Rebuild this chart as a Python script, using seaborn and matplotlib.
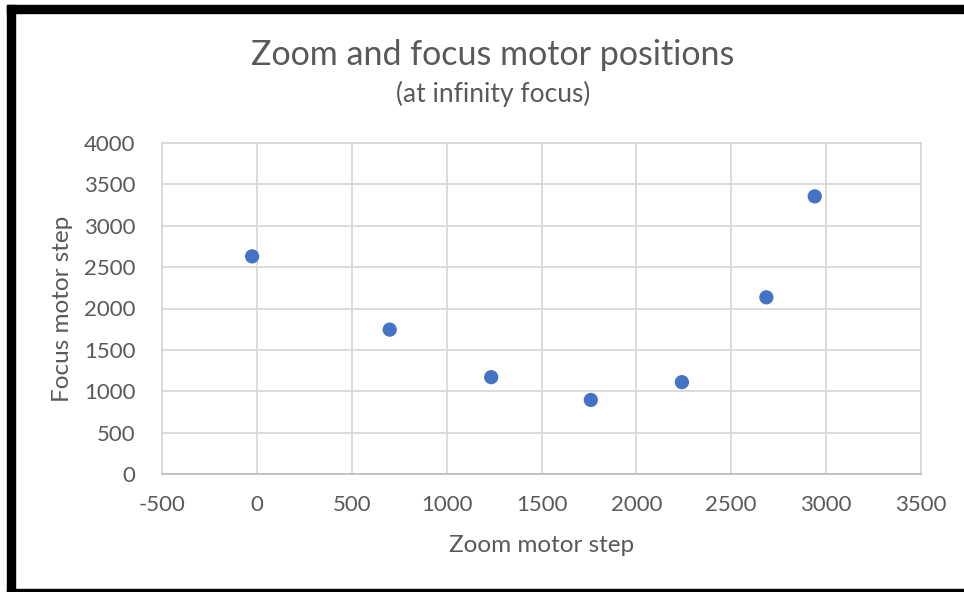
import matplotlib

matplotlib.use("Agg")

import matplotlib.pyplot as plt
import pandas as pd
import seaborn as sns
from matplotlib.patches import Rectangle

# Data
zoom_steps = [-25, 700, 1235, 1760, 2240, 2685, 2940]
focus_steps = [2630, 1745, 1170, 895, 1110, 2135, 3355]

x_ticks = [-500, 0, 500, 1000, 1500, 2000, 2500, 3000, 3500]
y_ticks = [0, 500, 1000, 1500, 2000, 2500, 3000, 3500, 4000]

TITLE = "Zoom and focus motor positions"
SUBTITLE = "(at infinity focus)"
X_LABEL = "Zoom motor step"
Y_LABEL = "Focus motor step"

TEXT_COLOR = "#595959"
GRID_COLOR = "#d9d9d9"
POINT_COLOR = "#4472c4"


def main() -> None:
    df = pd.DataFrame({"zoom": zoom_steps, "focus": focus_steps})

    sns.set_theme(style="white")
    plt.rcParams["font.family"] = ["Lato", "DejaVu Sans"]

    W, H = 964, 592
    fig = plt.figure(figsize=(W / 100, H / 100), dpi=100)
    fig.patch.set_facecolor("white")
    ax = fig.add_axes([162 / W, 1 - 474 / H, (921 - 162) / W, (474 - 143) / H])

    sns.scatterplot(
        data=df, x="zoom", y="focus", ax=ax,
        color=POINT_COLOR, s=105, edgecolor="none", zorder=3,
    )

    ax.set_xlim(-500, 3500)
    ax.set_ylim(0, 4000)
    ax.set_xticks(x_ticks)
    ax.set_yticks(y_ticks)
    ax.set_xticklabels([str(t) for t in x_ticks])
    ax.set_yticklabels([str(t) for t in y_ticks])

    ax.grid(True, color=GRID_COLOR, linewidth=1.3, zorder=0)
    ax.set_axisbelow(True)
    for sp in ax.spines.values():
        sp.set_color(GRID_COLOR)
        sp.set_linewidth(1.3)
    ax.spines["bottom"].set_color("#bfbfbf")

    ax.tick_params(axis="both", length=0, labelsize=16, colors=TEXT_COLOR)
    ax.tick_params(axis="y", pad=19)
    ax.tick_params(axis="x", pad=15)

    ax.set_xlabel(X_LABEL, fontsize=17.5, color=TEXT_COLOR, va="center")
    ax.set_ylabel(Y_LABEL, fontsize=17.5, color=TEXT_COLOR, va="center")
    ax.xaxis.set_label_coords(0.5, (474 - 545) / 331)
    ax.yaxis.set_label_coords((62 - 162) / 759, 0.5)

    fig.text(493 / W, 1 - 55 / H, TITLE, ha="center", va="center",
             fontsize=24.5, color=TEXT_COLOR)
    fig.text(493 / W, 1 - 94 / H, SUBTITLE, ha="center", va="center",
             fontsize=19, color=TEXT_COLOR)

    # thick black frame around the chart (right side cut off in the screenshot)
    frame = dict(transform=None, color="black", zorder=10)
    fig.add_artist(Rectangle((7, 0), 8, H - 5, **frame))
    fig.add_artist(Rectangle((7, H - 13), W - 7, 8, **frame))
    fig.add_artist(Rectangle((7, 0), W - 7, 3, **frame))

    fig.savefig("out.png", dpi=100)
    plt.close("all")


if __name__ == "__main__":
    main()
